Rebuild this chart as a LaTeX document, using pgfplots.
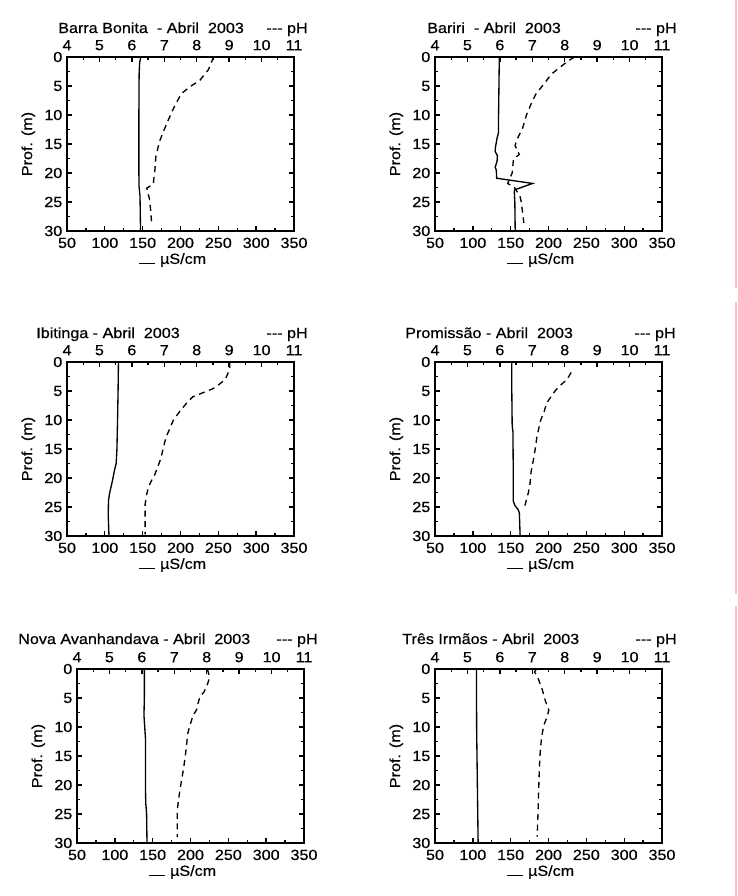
\documentclass[border=0pt]{standalone}
\usepackage{fontspec}
\setmainfont{Liberation Sans}[FakeStretch=1.1, FakeBold=0.5]
\usepackage{pgfplots}
\pgfplotsset{compat=1.18}

\newcommand\fs{\fontsize{11}{13.2}\selectfont}

% conductivity (bottom) + depth (left), one panel
\pgfplotsset{
  cond/.style={
    anchor=north west,
    scale only axis, width=170.25pt, height=130.5pt,
    xmin=50, xmax=350, ymin=0, ymax=30, y dir=reverse,
    xtick={50,100,...,350}, ytick={0,5,...,30},
    minor x tick num=1, minor y tick num=1,
    xtick pos=bottom, ytick pos=both, yticklabel pos=left,
    tick align=inside, major tick length=3.5pt, minor tick length=2pt,
    axis line style={line width=1.2pt},
    every tick/.append style={black, line width=1pt},
    tick label style={font=\fs},
    xticklabel style={yshift=-1.5pt},
    label style={font=\fs},
    /pgf/number format/assume math mode=true,
    xlabel={\rule{12.5pt}{0.7pt}\hspace{3.5pt}µS/cm},
    xlabel style={xshift=-6pt, yshift=3pt},
    ylabel={Prof. (m)},
  },
  ph/.style={
    anchor=north west,
    scale only axis, width=170.25pt, height=130.5pt,
    xmin=4, xmax=11, ymin=0, ymax=30, y dir=reverse,
    axis x line*=top, hide y axis,
    xtick={4,...,11}, minor x tick num=1,
    tick align=inside, major tick length=3.5pt, minor tick length=2pt,
    axis line style={line width=1.2pt},
    every tick/.append style={black, line width=1pt},
    tick label style={font=\fs},
    xticklabel style={yshift=1.5pt},
    /pgf/number format/assume math mode=true,
  },
  cline/.style={black, line width=1pt, no marks},
  pline/.style={black, line width=1pt, no marks, dash pattern=on 4.5pt off 3.5pt},
}

\begin{document}
\begin{tikzpicture}
\fill[white] (0,0) rectangle (553.5pt,-672pt);
\path[use as bounding box] (0,0) rectangle (553.5pt,-672pt);

% ---- Barra Bonita
\begin{axis}[cond, at={(67*0.75pt,-57*0.75pt)}]
\addplot[cline] coordinates {(147.5,0) (146,1) (145.3,3) (145,10) (145,20) (145.2,22.3) (146.5,24) (147.2,30)};
\end{axis}
\begin{axis}[ph, at={(67*0.75pt,-57*0.75pt)}]
\addplot[pline] coordinates {(8.52,0) (8.36,2.2) (8.1,4) (7.8,5.1) (7.53,6.3) (7.33,8.3) (7.12,10.9) (6.97,12.9) (6.85,14.6) (6.74,17.2) (6.71,19.5) (6.66,21.9) (6.46,22.6) (6.54,24.4) (6.58,26.4) (6.61,28.7)};
\end{axis}

% ---- Bariri
\begin{axis}[cond, at={(435*0.75pt,-57*0.75pt)}]
\addplot[cline] coordinates {(135,0) (134.5,5) (134,10) (134,13) (132,14) (130,15.5) (129.5,16.3) (132.5,17) (132,18) (129.5,19) (131,19.5) (131.5,20.9) (179,21.8) (155.3,22.9) (154.8,23.2) (155.5,25) (156,30)};
\end{axis}
\begin{axis}[ph, at={(435*0.75pt,-57*0.75pt)}]
\addplot[pline] coordinates {(8.3,0) (8.1,0.7) (7.8,2) (7.58,3) (7.38,4.5) (7.12,6.3) (6.97,8) (6.82,10) (6.7,12.3) (6.52,14.3) (6.47,15.3) (6.6,16.8) (6.42,17.6) (6.38,20) (6.24,21.8) (6.45,22.5) (6.62,24) (6.66,25) (6.74,28.6)};
\end{axis}

% ---- Ibitinga
\begin{axis}[cond, at={(67*0.75pt,-362*0.75pt)}]
\addplot[cline] coordinates {(118,0) (117.5,5) (116.8,10) (116,15) (115,17.5) (113,18.5) (110,20.5) (106,22.8) (104.8,24) (104.5,26.5) (105.5,30)};
\end{axis}
\begin{axis}[ph, at={(67*0.75pt,-362*0.75pt)}]
\addplot[pline] coordinates {(9.02,0) (9.02,1) (8.96,2) (8.88,3) (8.66,4) (8.5,4.6) (7.88,6) (7.7,7) (7.48,8.5) (7.28,10) (7.17,11.5) (7.05,13) (6.92,16) (6.87,17) (6.77,18.5) (6.7,19.5) (6.6,20.5) (6.51,21.6) (6.45,23) (6.41,24.5) (6.41,29.7)};
\end{axis}

% ---- Promissao
\begin{axis}[cond, at={(435*0.75pt,-362*0.75pt)}]
\addplot[cline] coordinates {(151.5,0) (151.5,5) (152,11) (153,12) (153.5,20) (153.5,24) (155.5,24.7) (160,25.5) (161.5,26) (162.5,30)};
\end{axis}
\begin{axis}[ph, at={(435*0.75pt,-362*0.75pt)}]
\addplot[pline] coordinates {(8.2,1.8) (8.07,3) (7.85,4.1) (7.7,5) (7.55,6.2) (7.44,7.1) (7.37,8.5) (7.26,10) (7.19,11.7) (7.14,13) (7.09,15) (7.03,17) (6.96,19) (6.93,21) (6.88,22.5) (6.77,24.8)};
\end{axis}

% ---- Nova Avanhandava
\begin{axis}[cond, at={(77*0.75pt,-669*0.75pt)}]
\addplot[cline] coordinates {(139,0) (139,5) (138.5,8) (139.5,10) (140.5,12) (140.5,20) (140.8,23) (142,25) (142.5,30)};
\end{axis}
\begin{axis}[ph, at={(77*0.75pt,-669*0.75pt)}]
\addplot[pline] coordinates {(8.02,0) (8.07,1) (8.06,2) (8.0,3) (7.91,4) (7.79,4.8) (7.73,6) (7.69,7) (7.58,8) (7.5,9.4) (7.42,11) (7.38,13) (7.34,15) (7.29,17) (7.23,19) (7.17,21) (7.12,23) (7.09,24.5) (7.09,29)};
\end{axis}

% ---- Tres Irmaos
\begin{axis}[cond, at={(435*0.75pt,-669*0.75pt)}]
\addplot[cline] coordinates {(104.8,0) (105,10) (107,30)};
\end{axis}
\begin{axis}[ph, at={(435*0.75pt,-669*0.75pt)}]
\addplot[pline] coordinates {(7.13,0) (7.07,0.5) (7.2,1.9) (7.31,3.6) (7.41,5.6) (7.51,7.1) (7.46,8.2) (7.36,9.6) (7.29,11.6) (7.25,13.9) (7.22,16.8) (7.2,20.3) (7.18,24.3) (7.15,28.9)};
\end{axis}

% titles
\begin{scope}[every node/.style={font=\fs, inner sep=0pt}]
\node[anchor=base west] at (58*0.75pt,-33*0.75pt) {Barra Bonita\ \ - Abril\ \ 2003};
\node[anchor=base east] at (308*0.75pt,-33*0.75pt) {-{}-{}- pH};
\node[anchor=base west] at (427*0.75pt,-33*0.75pt) {Bariri\ \ - Abril\ \ 2003};
\node[anchor=base east] at (677*0.75pt,-33*0.75pt) {-{}-{}- pH};
\node[anchor=base west] at (36*0.75pt,-338*0.75pt) {Ibitinga - Abril\ \ 2003};
\node[anchor=base east] at (308*0.75pt,-338*0.75pt) {-{}-{}- pH};
\node[anchor=base west] at (405*0.75pt,-338*0.75pt) {Promissão - Abril\ \ 2003};
\node[anchor=base east] at (676*0.75pt,-338*0.75pt) {-{}-{}- pH};
\node[anchor=base west] at (18*0.75pt,-644*0.75pt) {Nova Avanhandava - Abril\ \ 2003};
\node[anchor=base east] at (318*0.75pt,-644*0.75pt) {-{}-{}- pH};
\node[anchor=base west] at (402*0.75pt,-644*0.75pt) {Três Irmãos - Abril\ \ 2003};
\node[anchor=base east] at (677*0.75pt,-644*0.75pt) {-{}-{}- pH};
\end{scope}

% faint page edge on the right
\draw[red!25, line width=0.8pt] (736*0.75pt,0) -- (736*0.75pt,-288*0.75pt)
  (736*0.75pt,-302*0.75pt) -- (736*0.75pt,-594*0.75pt)
  (736*0.75pt,-606*0.75pt) -- (736*0.75pt,-672pt);
\end{tikzpicture}
\end{document}
